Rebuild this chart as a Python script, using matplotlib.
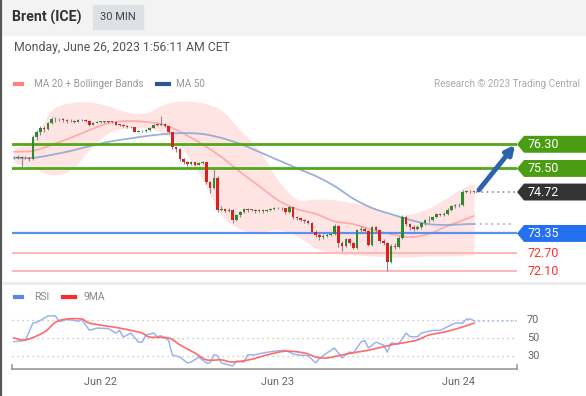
import matplotlib
matplotlib.use("Agg")
import matplotlib.pyplot as plt
import matplotlib.transforms as mtransforms
from matplotlib.patches import Rectangle, Polygon
from matplotlib.lines import Line2D
import numpy as np

# --- data (30 min candles, Brent) ---
first_open = 75.83
closes = [75.85, 75.88, 75.83, 75.86, 75.80, 76.55, 76.72, 76.85, 76.80, 77.00,
          77.15, 77.12, 77.14, 77.10, 77.06, 77.08, 77.05, 77.09, 77.10, 77.08,
          76.95, 77.02, 77.03, 77.04, 77.05, 77.03, 77.04, 76.95, 76.93, 76.90,
          76.88, 76.86, 76.72, 76.73, 76.74, 76.78, 76.85, 76.95, 76.93, 76.96,
          76.90, 76.70, 76.20, 76.15, 75.80, 75.72, 75.65, 75.70, 75.63, 75.68,
          75.70, 75.05, 74.85, 75.20, 74.12, 74.15, 74.10, 74.12, 73.80, 73.95,
          74.05, 74.17, 74.12, 74.13, 74.10, 74.12, 74.08, 74.12, 74.15, 74.18,
          74.20, 74.18, 74.05, 74.22, 73.88, 73.85, 73.80, 73.75, 73.70, 73.40,
          73.30, 73.22, 73.28, 73.30, 73.33, 73.60, 73.05, 72.95, 73.15, 73.05,
          72.88, 73.45, 73.50, 73.42, 72.98, 73.55, 73.45, 73.10, 73.05, 72.42,
          72.95, 72.90, 73.20, 73.90, 73.65, 73.55, 73.50, 73.55, 73.68, 73.78,
          73.80, 73.90, 73.98, 73.97, 74.00, 74.12, 74.25, 74.28, 74.30, 74.72,
          74.76, 74.74, 74.72]
highs = [75.90, 75.95, 75.92, 75.90, 75.89, 76.60, 76.78, 76.90, 76.92, 77.05,
         77.20, 77.20, 77.18, 77.17, 77.13, 77.12, 77.11, 77.12, 77.14, 77.13,
         77.10, 77.05, 77.06, 77.07, 77.08, 77.07, 77.07, 77.06, 76.98, 76.96,
         76.93, 76.91, 76.88, 76.77, 76.78, 76.81, 76.88, 76.98, 76.98, 77.22,
         77.00, 76.92, 76.72, 76.24, 76.18, 75.84, 75.76, 75.75, 75.73, 75.72,
         75.74, 75.72, 75.10, 75.48, 75.24, 74.25, 74.20, 74.18, 74.15, 74.00,
         74.10, 74.20, 74.20, 74.17, 74.16, 74.16, 74.15, 74.16, 74.19, 74.22,
         74.24, 74.23, 74.20, 74.26, 74.24, 73.92, 73.89, 73.84, 73.79, 73.73,
         73.45, 73.35, 73.32, 73.35, 73.38, 73.65, 73.62, 73.10, 73.20, 73.20,
         73.08, 73.50, 73.60, 73.55, 73.46, 73.60, 73.58, 73.48, 73.16, 73.08,
         73.00, 73.02, 73.25, 73.95, 73.92, 73.70, 73.62, 73.62, 73.72, 73.82,
         73.92, 73.94, 74.02, 74.03, 74.05, 74.18, 74.30, 74.34, 74.35, 74.78,
         74.80, 74.79, 74.77]
lows = [75.80, 75.82, 75.50, 75.80, 75.76, 75.78, 76.45, 76.62, 76.70, 76.78,
        76.98, 77.05, 77.08, 77.05, 77.02, 77.03, 77.02, 77.03, 77.06, 77.05,
        76.92, 76.93, 76.99, 77.00, 77.01, 77.00, 77.00, 76.93, 76.90, 76.87,
        76.85, 76.83, 76.69, 76.69, 76.70, 76.71, 76.75, 76.83, 76.90, 76.90,
        76.86, 76.66, 76.15, 76.05, 75.75, 75.66, 75.58, 75.60, 75.59, 75.60,
        75.64, 75.00, 74.70, 74.82, 74.05, 74.08, 74.05, 74.06, 73.68, 73.76,
        73.90, 74.02, 74.06, 74.08, 74.03, 74.06, 74.04, 74.05, 74.10, 74.12,
        74.15, 74.13, 74.00, 74.02, 73.84, 73.80, 73.76, 73.70, 73.65, 73.36,
        73.24, 73.12, 73.18, 73.24, 73.27, 73.30, 72.90, 72.78, 72.90, 72.98,
        72.84, 72.85, 73.40, 73.38, 72.92, 72.95, 73.40, 73.05, 72.98, 72.12,
        72.38, 72.85, 72.86, 73.15, 73.58, 73.45, 73.44, 73.46, 73.50, 73.64,
        73.74, 73.76, 73.86, 73.92, 73.93, 73.96, 74.08, 74.20, 74.22, 74.25,
        74.68, 74.70, 74.69]

# indicator samples (candle index -> value)
ind_idx = [0, 5, 10, 15, 20, 25, 30, 35, 40, 45, 50, 55, 60, 65, 70, 75, 80,
           85, 90, 95, 100, 105, 110, 115, 120, 122]
ma20 = [76.05, 76.08, 76.28, 76.51, 76.77, 77.00, 77.07, 77.04, 76.94, 76.65,
        76.30, 75.88, 75.38, 74.92, 74.45, 74.16, 74.00, 73.75, 73.66, 73.47,
        73.33, 73.23, 73.33, 73.60, 73.83, 73.93]
bb_upper = [76.18, 76.44, 77.43, 77.67, 77.70, 77.57, 77.37, 77.34, 77.63, 77.73,
            77.67, 77.43, 76.77, 76.11, 75.12, 74.49, 74.49, 74.46, 74.36, 74.23,
            73.96, 73.99, 74.19, 74.55, 74.92, 74.98]
bb_lower = [75.68, 75.52, 75.29, 75.45, 76.11, 76.67, 76.84, 76.84, 76.64, 76.11,
            75.12, 73.96, 73.50, 73.40, 73.47, 73.27, 72.87, 72.70, 72.64, 72.61,
            72.57, 72.57, 72.61, 72.61, 72.64, 72.64]
ma50 = [75.85, 75.85, 75.95, 76.08, 76.24, 76.38, 76.48, 76.57, 76.64, 76.67,
        76.64, 76.51, 76.31, 76.05, 75.78, 75.51, 75.25, 74.92, 74.50, 74.19,
        73.99, 73.80, 73.66, 73.63, 73.66, 73.66]

rsi_idx = [0, 3, 5, 6, 7, 9, 11, 12, 14, 16, 17, 18, 20, 22, 25, 27, 28, 29, 31,
           33, 34, 35, 37, 38, 39, 41, 42, 44, 46, 47, 49, 51, 52, 53, 54, 55, 58,
           59, 61, 62, 64, 66, 69, 72, 74, 75, 78, 80, 81, 83, 85, 87, 89, 90, 92,
           93, 94, 96, 98, 99, 100, 102, 104, 105, 107, 108, 111, 113, 116, 117,
           119, 120, 121, 122]
rsi = [45.5, 47, 66, 67, 69, 74, 74, 67.6, 70, 69, 68, 70, 58, 60.5, 60, 55, 58,
       50.6, 55, 45, 45, 52.8, 55, 51, 52, 47, 30.8, 28.5, 22, 23, 28.5, 22, 22,
       31, 30, 22, 18.7, 24, 23, 31, 31, 33, 35, 36, 32, 31, 30, 22, 27, 33, 38.5,
       27.5, 34, 33, 45, 47, 38.5, 45, 41.8, 34, 44, 43, 55, 51, 51, 55, 58, 58,
       64, 66, 66, 70.5, 70.5, 68.5]
ma9_idx = [0, 3, 8, 11, 14, 18, 20, 26, 31, 34, 36, 41, 44, 48, 51, 55, 58, 63,
           67, 72, 77, 80, 83, 87, 91, 94, 100, 103, 107, 110, 114, 118, 122]
rsi_ma9 = [49.6, 47.4, 56, 67, 70.5, 70.5, 66, 62, 58, 55, 50.6, 49.6, 42, 33,
           25.4, 25.4, 23, 26, 30.8, 35, 33, 28.5, 27.5, 31, 34, 36, 42, 44, 47.4,
           52.8, 56, 60.5, 66]

levels = [76.30, 75.50, 74.72, 73.35, 72.70, 72.10]
level_kinds = ["res", "res", "last", "pivot", "sup", "sup"]
rsi_levels = [70, 50, 30]
date_ticks = [23, 70, 118]
date_labels = ["Jun 22", "Jun 23", "Jun 24"]

W, H = 586, 396
plt.rcParams["font.family"] = ["Roboto", "DejaVu Sans"]
fig = plt.figure(figsize=(W / 100, H / 100), dpi=100)


def fx(px):
    return px / W


def fy(py):
    return 1 - py / H


def smooth(xs, ys, n=12):
    # Catmull-Rom curve through the sampled points (drawing only)
    xs, ys = np.asarray(xs, float), np.asarray(ys, float)
    px = np.concatenate([[2 * xs[0] - xs[1]], xs, [2 * xs[-1] - xs[-2]]])
    py = np.concatenate([[2 * ys[0] - ys[1]], ys, [2 * ys[-1] - ys[-2]]])
    t = np.linspace(0, 1, n, endpoint=False)
    outx, outy = [], []
    for k in range(1, len(px) - 2):
        for arr, out in ((px, outx), (py, outy)):
            p0, p1, p2, p3 = arr[k - 1:k + 3]
            out.extend(0.5 * (2 * p1 + (-p0 + p2) * t + (2 * p0 - 5 * p1 + 4 * p2 - p3) * t ** 2
                              + (-p0 + 3 * p1 - 3 * p2 + p3) * t ** 3))
    outx.append(xs[-1])
    outy.append(ys[-1])
    return np.array(outx), np.array(outy)


# header band and frame
fig.patches.append(Rectangle((0, fy(35)), 1, 35 / H, transform=fig.transFigure,
                             color="#f3f3f3", zorder=0))
fig.patches.append(Rectangle((fx(93), fy(29)), 50 / W, 24 / H, transform=fig.transFigure,
                             color="#dde0e4", zorder=1))
fig.add_artist(Line2D([fx(0.8), fx(0.8)], [0, 1], transform=fig.transFigure,
                      color="#555555", lw=1.6))
fig.add_artist(Line2D([fx(3), 1], [fy(283), fy(283)], transform=fig.transFigure,
                      color="#e8ecef", lw=2))

fig.text(fx(12), fy(17), "Brent (ICE)", fontsize=10.2, fontweight="bold",
         color="#333333", va="center")
fig.text(fx(118), fy(17), "30 MIN", fontsize=8, color="#444444",
         ha="center", va="center")
fig.text(fx(14), fy(47), "Monday, June 26, 2023 1:56:11 AM CET", fontsize=8.8,
         color="#555555", va="center")

# legend (price)
fig.add_artist(Line2D([fx(15), fx(22)], [fy(84), fy(84)], transform=fig.transFigure,
                      color="#ff8080", lw=3))
fig.text(fx(34), fy(84), "MA 20 + Bollinger Bands", fontsize=7.2, color="#999999", va="center")
fig.add_artist(Line2D([fx(157), fx(169)], [fy(84), fy(84)], transform=fig.transFigure,
                      color="#2b5797", lw=3))
fig.text(fx(176), fy(84), "MA 50", fontsize=7.2, color="#999999", va="center")
fig.text(fx(580), fy(84), "Research \u00a9 2023 Trading Central", fontsize=7.1,
         color="#aaaaaa", va="center", ha="right")

# --- price panel ---
ax = fig.add_axes([fx(12), fy(280), (517 - 12) / W, 180 / H])
ax.set_xlim(-0.53, 133.4)
ax.set_ylim(71.81, 77.765)
ax.axis("off")

bx, bu = smooth(ind_idx, bb_upper)
_, bl = smooth(ind_idx, bb_lower)
ax.fill_between(bx, bl, bu, color="#ffdede", alpha=0.8, lw=0, zorder=1)
ax.plot(*smooth(ind_idx, ma20), color="#ff9a9a", lw=1.2, alpha=0.8, zorder=2)
ax.plot(*smooth(ind_idx, ma50), color="#8fa8d3", lw=1.3, alpha=0.9, zorder=2)
ax.plot([ind_idx[-1], 132.5], [ma50[-1], ma50[-1]], color="#8fa8d3", lw=1.2,
        ls=(0, (1, 2.5)), zorder=2)

c = np.array(closes)
o = np.array([first_open] + closes[:-1])
idx = np.arange(len(c))
up = c >= o
body_lo = np.minimum(o, c)
body_h = np.maximum(np.abs(c - o), 0.025)
ax.vlines(idx, lows, highs, color="#8a8a8a", lw=0.8, zorder=3)
ax.bar(idx, body_h, bottom=body_lo, width=0.68,
       color=np.where(up, "#2f8a2f", "#d9211e"), zorder=4)

# horizontal levels + labels
trans = mtransforms.blended_transform_factory(fig.transFigure, ax.transData)
hh = 0.28
for lv, kind in zip(levels, level_kinds):
    if kind == "res":
        ax.axhline(lv, color="#52a81a", lw=2, zorder=2)
        box, txt = "#4a9c12", "white"
    elif kind == "pivot":
        ax.axhline(lv, color="#5b8ff0", lw=1.6, zorder=2)
        box, txt = "#2470f0", "white"
    elif kind == "last":
        ax.plot([idx[-1] + 0.5, 133.4], [lv, lv], color="#777777", lw=1.1,
                ls=(0, (1, 2.5)), zorder=2)
        box, txt = "#333333", "white"
    else:
        ax.axhline(lv, color="#ffb6b6", lw=1.4, zorder=2)
        box, txt = None, "#ff3030"
    if box:
        fig.add_artist(Polygon([(fx(517), lv), (fx(524), lv + hh), (1, lv + hh),
                                (1, lv - hh), (fx(524), lv - hh)],
                               closed=True, transform=trans, color=box, lw=0))
    fig.text(fx(527), lv, f"{lv:.2f}", transform=trans, fontsize=9,
             color=txt, va="center")

ax.annotate("", xy=(132.9, 76.28), xytext=(123.3, 74.79),
            arrowprops=dict(arrowstyle="-|>", lw=3.5, color="#2b63ad",
                            mutation_scale=13, shrinkA=0, shrinkB=0), zorder=6)

# --- RSI panel ---
fig.add_artist(Line2D([fx(15), fx(22)], [fy(297), fy(297)], transform=fig.transFigure,
                      color="#5b86e5", lw=3))
fig.text(fx(34), fy(297), "RSI", fontsize=7.5, color="#888888", va="center")
fig.add_artist(Line2D([fx(63), fx(75)], [fy(297), fy(297)], transform=fig.transFigure,
                      color="#ff2a2a", lw=3))
fig.text(fx(83), fy(297), "9MA", fontsize=7.5, color="#888888", va="center")

rx = fig.add_axes([fx(12), fy(369), (517 - 12) / W, 79 / H])
rx.set_xlim(-0.53, 133.4)
rx.set_ylim(15.3, 102.6)
for s in ["top", "right", "left"]:
    rx.spines[s].set_visible(False)
rx.spines["bottom"].set_color("#999999")
rx.spines["bottom"].set_linewidth(1.2)
rx.plot([0, 0], [0, 0.05], transform=rx.transAxes, color="#999999", lw=1.2, clip_on=False)
rx.plot([1, 1], [0, 0.05], transform=rx.transAxes, color="#999999", lw=1.2, clip_on=False)
rx.set_yticks([])
rx.set_xticks(date_ticks)
rx.set_xticklabels(date_labels, fontsize=7.8, color="#666666")
rx.tick_params(axis="x", length=0, pad=6)
for lv in rsi_levels:
    rx.axhline(lv, color="#bbbbbb", lw=0.9, ls=(0, (1, 3)), zorder=1)
    fig.text(fx(527), lv, str(lv), fontsize=7.8, color="#666666", va="center",
             transform=mtransforms.blended_transform_factory(fig.transFigure, rx.transData))
rx.plot(rsi_idx, rsi, color="#9bb4f0", lw=1.1, zorder=2)
rx.plot([rsi_idx[-1], 133.4], [rsi[-1], rsi[-1]], color="#9bb4f0", lw=1.1,
        ls=(0, (1, 2)), zorder=2)
rx.plot(*smooth(ma9_idx, rsi_ma9), color="#ff6a6a", lw=1.2, zorder=3)

fig.savefig("out.png", dpi=100)
